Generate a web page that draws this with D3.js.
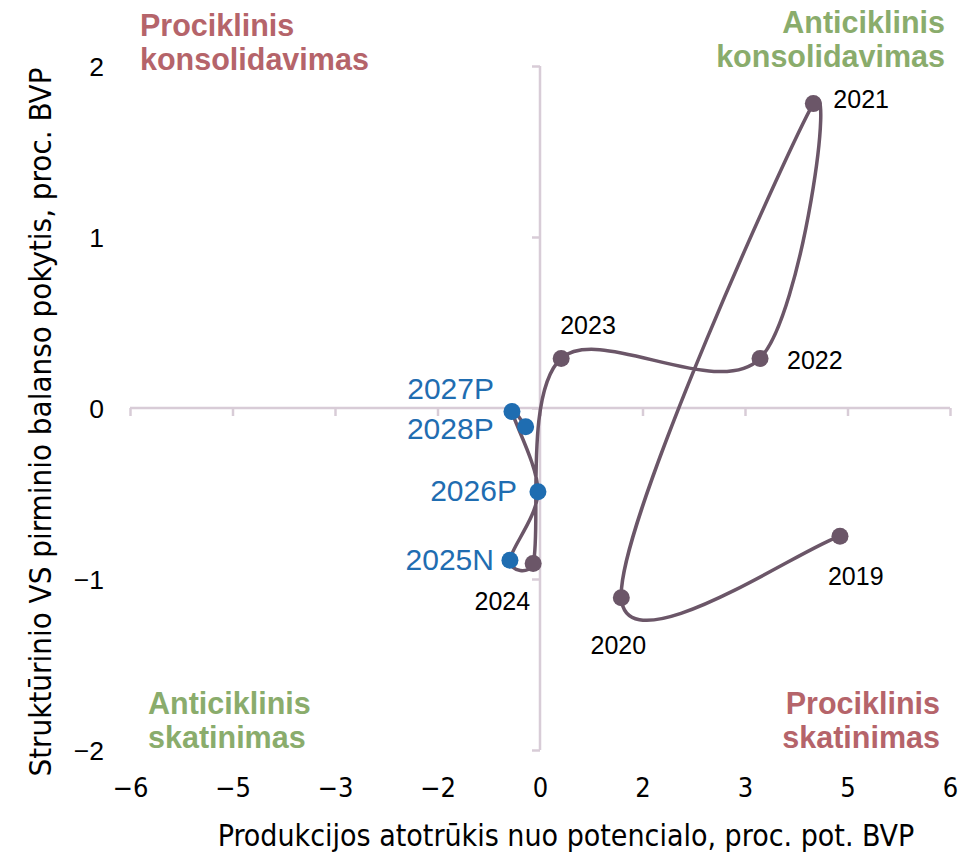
<!DOCTYPE html>
<html>
<head>
<meta charset="utf-8">
<script src="https://cdn.jsdelivr.net/npm/d3@7"></script>
<style>
  body { margin: 0; background: #fff; }
  text { font-family: "Liberation Sans", Arial, sans-serif; }
  .narrow { font-family: "Liberation Sans Narrow", "DejaVu Sans Condensed", "Liberation Sans", sans-serif; }
</style>
</head>
<body>
<div id="chart"></div>
<script>
// data
let years   = ["2019", "2020", "2021", "2022", "2023", "2024", "2025N", "2026P", "2027P", "2028P"];
let gapVals = [4.39, 1.19, 4.00, 3.22, 0.31, -0.10, -0.44, -0.03, -0.41, -0.21];
let balVals = [-0.75, -1.11, 1.78, 0.29, 0.29, -0.91, -0.89, -0.49, -0.02, -0.11];
let projected = [false, false, false, false, false, false, true, true, true, true];

let xTickVals = [-6, -4.5, -3, -1.5, 0, 1.5, 3, 4.5, 6];
let xTickLabels = ["\u22126", "\u22125", "\u22123", "\u22122", "0", "2", "3", "5", "6"];
let yTickVals = [-2, -1, 0, 1, 2];
let yTickLabels = ["\u22122", "\u22121", "0", "1", "2"];

// label placement around each point (dx, dy, anchor)
let labelPlace = [
    [-12, 49, "start"], [-3, 56, "middle"], [20, 4, "start"], [27, 11, "start"], [-1, -24, "start"],
    [-3, 46, "end"], [-16, 10, "end"], [-21, 9, "end"], [-18, -12, "end"], [-32, 12, "end"]
];

let width = 960, height = 853;
let svg = d3.select("#chart").append("svg")
    .attr("width", width)
    .attr("height", height);

let x = d3.scaleLinear().domain([-6, 6]).range([130, 950]);
let y = d3.scaleLinear().domain([-2, 2]).range([750, 66]);

let axisColor = "#d8ccd7";
let lineColor = "#6b5668";
let blue = "#1f6db1";
let red = "#b5646a";
let green = "#8aac6c";

// x axis through y = 0, labels at the bottom
let xAxis = d3.axisBottom(x).tickValues(xTickVals).tickSize(8).tickSizeOuter(0)
    .tickFormat((d, i) => xTickLabels[i]);
let gx = svg.append("g")
    .attr("transform", "translate(0," + y(0) + ")")
    .call(xAxis);
gx.select(".domain").attr("stroke", axisColor).attr("stroke-width", 2.5);
gx.selectAll(".tick line").attr("stroke", axisColor).attr("stroke-width", 2.5);
gx.selectAll(".tick text")
    .attr("class", "narrow")
    .attr("y", 797 - y(0))
    .attr("dy", null)
    .attr("font-size", 27)
    .attr("fill", "#000");

// y axis through x = 0, labels at the left
let yAxis = d3.axisLeft(y).tickValues(yTickVals).tickSize(8).tickSizeOuter(0)
    .tickFormat((d, i) => yTickLabels[i]);
let gy = svg.append("g")
    .attr("transform", "translate(" + x(0) + ",0)")
    .call(yAxis);
gy.select(".domain").attr("stroke", axisColor).attr("stroke-width", 2.5);
gy.selectAll(".tick line").attr("stroke", axisColor).attr("stroke-width", 2.5);
gy.selectAll(".tick text")
    .attr("x", 104 - x(0))
    .attr("dy", "0.35em")
    .attr("font-size", 26.5)
    .attr("fill", "#000");
gx.select(".domain").attr("d", "M" + x(-6) + ",0H" + x(6));
gy.select(".domain").attr("d", "M0," + y(-2) + "V" + y(2));

let pts = years.map((d, i) => ({year: d, gx: gapVals[i], by: balVals[i], proj: projected[i], place: labelPlace[i]}));

// Excel-like smoothed line: catmull-rom tangents, clamped on short segments
function smoothPath(data) {
    let p = data.map(d => [x(d.gx), y(d.by)]);
    let path = d3.path();
    path.moveTo(p[0][0], p[0][1]);
    for (let i = 0; i < p.length - 1; i++) {
        let p0 = p[i - 1] || p[i], p1 = p[i], p2 = p[i + 1], p3 = p[i + 2] || p[i + 1];
        let seg = Math.hypot(p2[0] - p1[0], p2[1] - p1[1]);
        let t1 = [(p2[0] - p0[0]) / 6, (p2[1] - p0[1]) / 6];
        let t2 = [(p3[0] - p1[0]) / 6, (p3[1] - p1[1]) / 6];
        let lim = seg * 0.5;
        [t1, t2].forEach(t => {
            let l = Math.hypot(t[0], t[1]);
            if (l > lim) { t[0] *= lim / l; t[1] *= lim / l; }
        });
        path.bezierCurveTo(p1[0] + t1[0], p1[1] + t1[1], p2[0] - t2[0], p2[1] - t2[1], p2[0], p2[1]);
    }
    return path.toString();
}

svg.append("path")
    .datum(pts)
    .attr("fill", "none")
    .attr("stroke", lineColor)
    .attr("stroke-width", 3.5)
    .attr("d", smoothPath);

svg.selectAll(".pt")
    .data(pts)
    .enter().append("circle")
    .attr("class", "pt")
    .attr("cx", d => x(d.gx))
    .attr("cy", d => y(d.by))
    .attr("r", 8.5)
    .attr("fill", d => d.proj ? blue : lineColor);

svg.selectAll(".lbl")
    .data(pts)
    .enter().append("text")
    .attr("class", "lbl")
    .attr("x", d => x(d.gx) + d.place[0])
    .attr("y", d => y(d.by) + d.place[1])
    .attr("text-anchor", d => d.place[2])
    .attr("font-size", d => d.proj ? 30 : 25)
    .attr("fill", d => d.proj ? blue : "#000")
    .text(d => d.year);

// quadrant notes
let quadrants = [
    {lines: ["Prociklinis", "konsolidavimas"], x: 140, y: 36, anchor: "start", color: red},
    {lines: ["Anticiklinis", "konsolidavimas"], x: 945, y: 33, anchor: "end", color: green},
    {lines: ["Anticiklinis", "skatinimas"], x: 148, y: 714, anchor: "start", color: green},
    {lines: ["Prociklinis", "skatinimas"], x: 940, y: 714, anchor: "end", color: red}
];
quadrants.forEach(q => {
    let t = svg.append("text")
        .attr("x", q.x)
        .attr("y", q.y)
        .attr("text-anchor", q.anchor)
        .attr("font-size", 30.5)
        .attr("font-weight", "bold")
        .attr("fill", q.color);
    q.lines.forEach((l, i) => {
        t.append("tspan")
            .attr("x", q.x)
            .attr("dy", i === 0 ? 0 : 34)
            .text(l);
    });
});

// axis titles
svg.append("text")
    .attr("class", "narrow")
    .attr("x", 566)
    .attr("y", 846)
    .attr("text-anchor", "middle")
    .attr("font-size", 30)
    .attr("fill", "#000")
    .text("Produkcijos atotrūkis nuo potencialo, proc. pot. BVP");

svg.append("text")
    .attr("class", "narrow")
    .attr("transform", "translate(51,422) rotate(-90)")
    .attr("text-anchor", "middle")
    .attr("font-size", 31)
    .attr("fill", "#000")
    .text("Struktūrinio VS pirminio balanso pokytis, proc. BVP");
</script>
</body>
</html>
